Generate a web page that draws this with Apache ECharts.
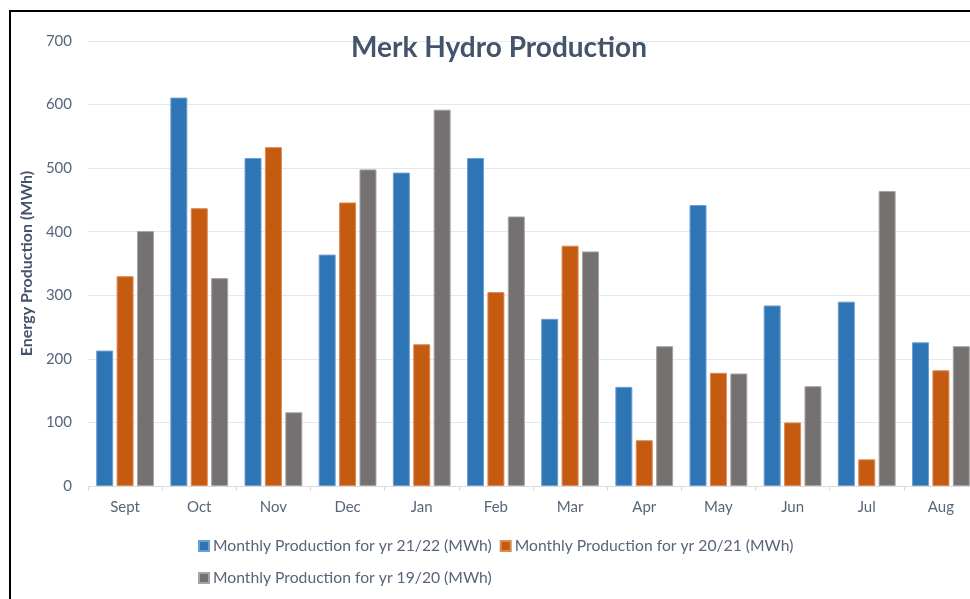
<!DOCTYPE html>
<html>
<head>
<meta charset="utf-8">
<script src="https://cdn.jsdelivr.net/npm/echarts@6/dist/echarts.min.js"></script>
<style>
  html, body { margin: 0; padding: 0; background: #fff; }
  #chart { width: 970px; height: 599px; }
</style>
</head>
<body>
<div id="chart"></div>
<script>
const months = ['Sept', 'Oct', 'Nov', 'Dec', 'Jan', 'Feb', 'Mar', 'Apr', 'May', 'Jun', 'Jul', 'Aug'];
const prod2122 = [213, 611, 516, 364, 493, 516, 263, 156, 442, 284, 290, 226];
const prod2021 = [330, 437, 533, 446, 223, 305, 378, 72, 178, 100, 42, 182];
const prod1920 = [401, 327, 116, 498, 592, 424, 369, 220, 177, 157, 464, 220];
const seriesNames = [
  'Monthly Production for yr 21/22 (MWh)',
  'Monthly Production for yr 20/21 (MWh)',
  'Monthly Production for yr 19/20 (MWh)'
];

const chart = echarts.init(document.getElementById('chart'));
const labelColor = '#586579';
const font = 'Lato';

function barSeries(name, data, color, edge) {
  return {
    name: name,
    type: 'bar',
    data: data,
    barWidth: 17,
    barGap: '20%',
    itemStyle: { color: color, borderColor: edge, borderWidth: 1 }
  };
}

const option = {
  animation: false,
  color: ['#2E75B6', '#C55A11', '#767171'],
  title: {
    text: 'Merk Hydro Production',
    left: 494,
    textAlign: 'center',
    top: 29,
    textStyle: { fontFamily: font, fontSize: 28, fontWeight: 'bold', color: '#44546A' }
  },
  // frame around the chart, cut off on the right and bottom
  graphic: [{
    type: 'rect',
    shape: { x: 10, y: 11, width: 1000, height: 1000 },
    style: { fill: 'none', stroke: '#000', lineWidth: 2 },
    silent: true
  }],
  legend: {
    data: seriesNames,
    left: 198,
    top: 534,
    width: 640,
    padding: 0,
    itemWidth: 10,
    itemHeight: 10,
    itemGap: 8,
    icon: 'rect',
    textStyle: { fontFamily: font, fontSize: 15.7, color: labelColor, lineHeight: 24, padding: [0, 0, 0, -1] }
  },
  grid: { left: 88, width: 890, top: 41, bottom: 113, containLabel: false, outerBoundsMode: 'none' },
  xAxis: {
    type: 'category',
    data: months,
    axisLine: { lineStyle: { color: '#D9D9D9' } },
    axisTick: { show: true, length: 5, lineStyle: { color: '#D9D9D9' } },
    axisLabel: { fontFamily: font, fontSize: 15, color: labelColor, margin: 14 }
  },
  yAxis: {
    type: 'value',
    min: 0,
    max: 700,
    interval: 100,
    name: 'Energy Production (MWh)',
    nameLocation: 'middle',
    nameGap: 47,
    nameTextStyle: { fontFamily: font, fontSize: 16, fontWeight: 'bold', color: '#44546A' },
    axisLine: { show: false },
    axisTick: { show: false },
    axisLabel: { fontFamily: font, fontSize: 15, color: labelColor, margin: 16 },
    splitLine: { lineStyle: { color: '#E4E8EE' } }
  },
  series: [
    barSeries(seriesNames[0], prod2122, '#2E75B6', '#6E9FD3'),
    barSeries(seriesNames[1], prod2021, '#C55A11', '#DC8A56'),
    barSeries(seriesNames[2], prod1920, '#767171', '#A8A4A4')
  ]
};

chart.setOption(option);
</script>
</body>
</html>
